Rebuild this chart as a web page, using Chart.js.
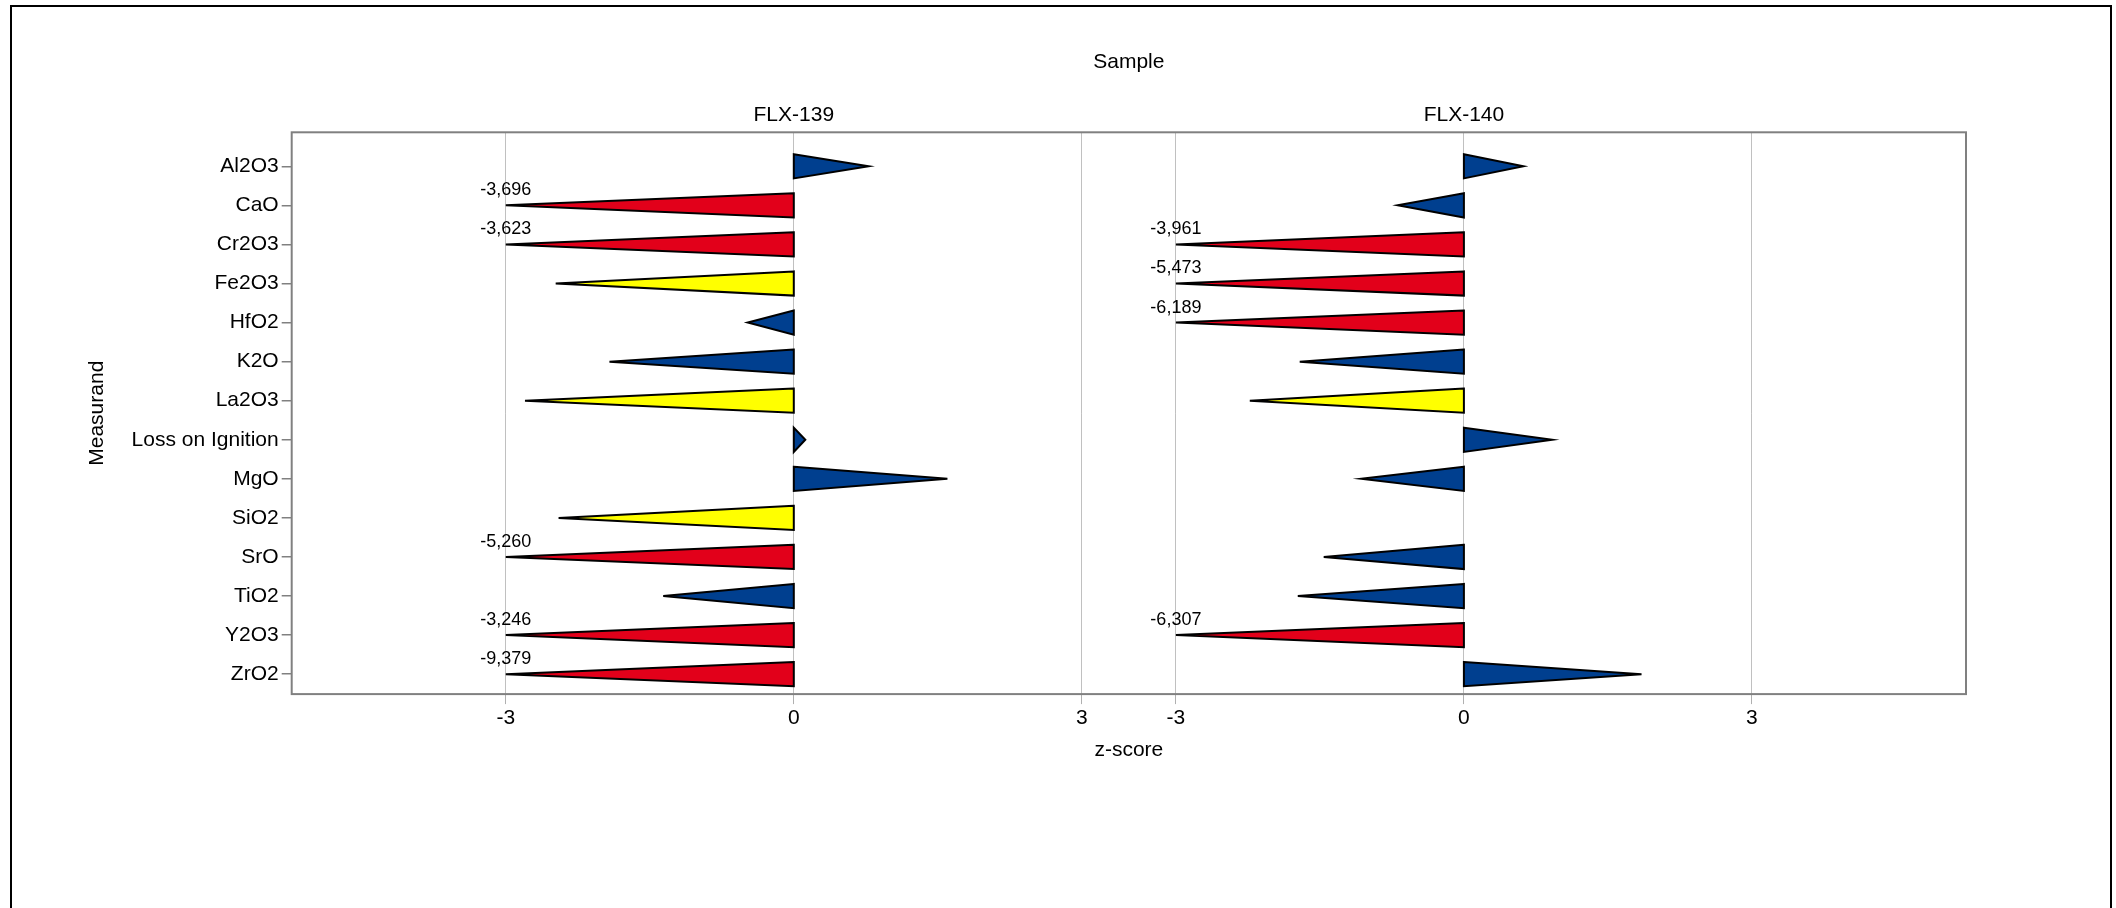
<!DOCTYPE html>
<html>
<head>
<meta charset="utf-8">
<title>z-score per measurand</title>
<script src="https://cdn.jsdelivr.net/npm/chart.js@4.4.1/dist/chart.umd.min.js"></script>
<style>
  html, body { margin: 0; padding: 0; background: #fff; overflow: hidden; }
  #wrap { position: relative; width: 2116px; height: 908px; }
  #chart { position: absolute; left: 0; top: 0; }
  #frame { position: absolute; left: 10px; top: 5px; width: 2098px; height: 940px; border: 2px solid #000; pointer-events: none; }
</style>
</head>
<body>
<div id="wrap">
  <canvas id="chart" width="2116" height="908"></canvas>
  <div id="frame"></div>
</div>
<script>
const measurands = ['Al2O3', 'CaO', 'Cr2O3', 'Fe2O3', 'HfO2', 'K2O', 'La2O3',
  'Loss on Ignition', 'MgO', 'SiO2', 'SrO', 'TiO2', 'Y2O3', 'ZrO2'];
const samples = ['FLX-139', 'FLX-140'];

// z-scores per measurand, same order as measurands (null = not reported)
const zFlx139 = [0.78, -3.696, -3.623, -2.48, -0.48, -1.92, -2.80, 0.12, 1.60, -2.45, -5.260, -1.36, -3.246, -9.379];
const zFlx140 = [0.62, -0.69, -3.961, -5.473, -6.189, -1.71, -2.23, 0.92, -1.07, null, -1.46, -1.73, -6.307, 1.85];

const xTicks = [-3, 0, 3];
const zLimit = 3;

const FONT = "'Liberation Sans', Arial, sans-serif";
const RED = '#e2001a';
const YELLOW = '#ffff00';
const BLUE = '#003f8f';

function colorFor(v) {
  const a = Math.abs(v);
  if (a > 3) return RED;
  if (a > 2) return YELLOW;
  return BLUE;
}

function toPoints(values) {
  return values.map((v, i) => ({
    x: v == null ? null : Math.max(-zLimit, Math.min(zLimit, v)),
    y: i,
  }));
}

function bottomAxis(min, max) {
  return {
    type: 'linear',
    axis: 'x',
    position: 'bottom',
    stack: 'bottom',
    stackWeight: 1,
    min,
    max,
    afterBuildTicks: (scale) => { scale.ticks = xTicks.map((value) => ({ value })); },
    grid: { color: '#c0c0c0', tickColor: '#b0b0b0', tickLength: 10, lineWidth: 1 },
    border: { display: false },
    ticks: { color: '#000', padding: 2, font: { family: FONT, size: 21 }, callback: (v) => String(v) },
  };
}

function topAxis(min, max, name) {
  return {
    type: 'linear',
    axis: 'x',
    position: 'top',
    stack: 'top',
    stackWeight: 1,
    min,
    max,
    afterBuildTicks: (scale) => { scale.ticks = [{ value: 0 }]; },
    grid: { display: false, drawTicks: false },
    border: { display: false },
    ticks: { color: '#000', padding: 4, font: { family: FONT, size: 21 }, callback: () => name },
  };
}

const triangles = {
  id: 'triangles',
  afterDatasetsDraw(chart) {
    const { ctx } = chart;
    const yScale = chart.scales.y;
    const half = Math.abs(yScale.getPixelForValue(0.31) - yScale.getPixelForValue(0));
    chart.data.datasets.forEach((ds, di) => {
      const meta = chart.getDatasetMeta(di);
      const base = chart.scales[ds.xAxisID].getPixelForValue(0);
      meta.data.forEach((pt, i) => {
        const v = ds.zValues[i];
        if (v == null) return;
        ctx.save();
        ctx.beginPath();
        ctx.moveTo(base, pt.y - half);
        ctx.lineTo(pt.x, pt.y);
        ctx.lineTo(base, pt.y + half);
        ctx.closePath();
        ctx.fillStyle = colorFor(v);
        ctx.fill();
        ctx.lineWidth = 2;
        ctx.strokeStyle = '#000';
        ctx.stroke();
        ctx.restore();

        if (Math.abs(v) > zLimit) {
          ctx.save();
          ctx.font = `18px ${FONT}`;
          ctx.fillStyle = '#000';
          ctx.textAlign = 'center';
          ctx.textBaseline = 'middle';
          ctx.fillText(v.toFixed(3).replace('.', ','), pt.x, pt.y - 15);
          ctx.restore();
        }
      });
    });

    // plot frame
    const a = chart.chartArea;
    ctx.save();
    ctx.strokeStyle = '#808080';
    ctx.lineWidth = 2;
    ctx.strokeRect(a.left, a.top, a.right - a.left, a.bottom - a.top);
    ctx.restore();
  },
};

new Chart(document.getElementById('chart'), {
  type: 'scatter',
  data: {
    datasets: [
      { label: samples[0], xAxisID: 'x1', yAxisID: 'y', data: toPoints(zFlx139), zValues: zFlx139, pointRadius: 0 },
      { label: samples[1], xAxisID: 'x2', yAxisID: 'y', data: toPoints(zFlx140), zValues: zFlx140, pointRadius: 0 },
    ],
  },
  options: {
    responsive: false,
    animation: false,
    devicePixelRatio: 1,
    layout: { padding: { top: 0, left: 0, right: 150, bottom: 145.5 } },
    scales: {
      x1: bottomAxis(-5.23, 3.49),
      x2: bottomAxis(-3.49, 5.23),
      // top boxes are laid out in reverse order
      x2top: topAxis(-3.49, 5.23, samples[1]),
      x1top: topAxis(-5.23, 3.49, samples[0]),
      y: {
        type: 'linear',
        position: 'left',
        reverse: true,
        min: -0.87,
        max: 13.51,
        afterBuildTicks: (scale) => { scale.ticks = measurands.map((_, i) => ({ value: i })); },
        afterFit: (scale) => { scale.width = 291.7; },
        grid: { drawOnChartArea: false, drawTicks: true, tickLength: 10, color: '#808080', tickColor: '#808080', lineWidth: 1.5 },
        border: { display: false },
        ticks: { color: '#000', padding: 3, font: { family: FONT, size: 21 }, callback: (v) => measurands[v] ?? '' },
        title: { display: true, text: 'Measurand', color: '#000', font: { family: FONT, size: 21 }, padding: { top: 84.4, bottom: 0 } },
      },
    },
    plugins: {
      legend: { display: false },
      tooltip: { enabled: false },
      title: {
        display: true,
        text: 'Sample',
        fullSize: false,
        color: '#000',
        font: { family: FONT, size: 21, weight: 'normal' },
        padding: { top: 49.4, bottom: 24.5 },
      },
      subtitle: {
        display: true,
        text: 'z-score',
        position: 'bottom',
        fullSize: false,
        color: '#000',
        font: { family: FONT, size: 21, weight: 'normal' },
        padding: { top: 4, bottom: 0 },
      },
    },
  },
  plugins: [triangles],
});
</script>
</body>
</html>
